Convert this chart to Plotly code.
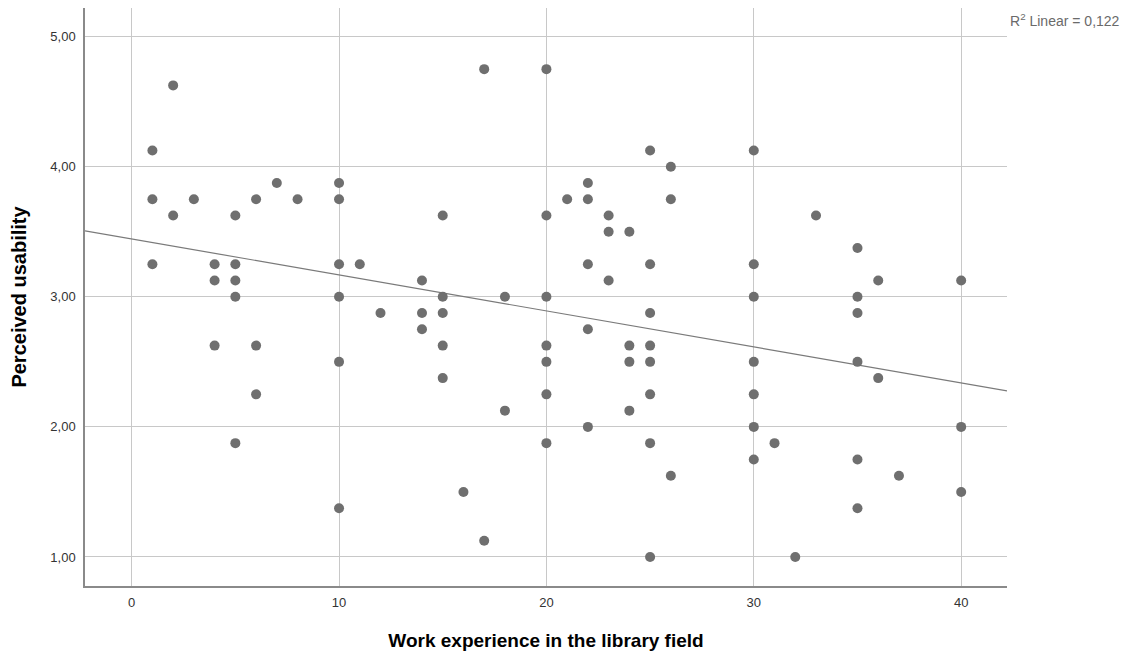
import plotly.graph_objects as go

# Work experience (years) and perceived usability
experience = (
    [1, 1, 1] + [2, 2] + [3] + [4, 4, 4] + [5, 5, 5, 5, 5] + [6, 6, 6] + [7] + [8]
    + [10, 10, 10, 10, 10, 10] + [11] + [12] + [14, 14, 14] + [15, 15, 15, 15, 15]
    + [16] + [17, 17] + [18, 18] + [20, 20, 20, 20, 20, 20, 20] + [21]
    + [22, 22, 22, 22, 22] + [23, 23, 23] + [24, 24, 24, 24]
    + [25, 25, 25, 25, 25, 25, 25, 25] + [26, 26, 26]
    + [30, 30, 30, 30, 30, 30, 30] + [31] + [32] + [33]
    + [35, 35, 35, 35, 35, 35] + [36, 36] + [37] + [40, 40, 40]
)
usability = (
    [4.125, 3.75, 3.25] + [4.625, 3.625] + [3.75] + [3.25, 3.125, 2.625]
    + [3.625, 3.25, 3.125, 3.0, 1.875] + [3.75, 2.625, 2.25] + [3.875] + [3.75]
    + [3.875, 3.75, 3.25, 3.0, 2.5, 1.375] + [3.25] + [2.875] + [3.125, 2.875, 2.75]
    + [3.625, 3.0, 2.875, 2.625, 2.375] + [1.5] + [4.75, 1.125] + [3.0, 2.125]
    + [4.75, 3.625, 3.0, 2.625, 2.5, 2.25, 1.875] + [3.75]
    + [3.875, 3.75, 3.25, 2.75, 2.0] + [3.625, 3.5, 3.125] + [3.5, 2.625, 2.5, 2.125]
    + [4.125, 3.25, 2.875, 2.625, 2.5, 2.25, 1.875, 1.0] + [4.0, 3.75, 1.625]
    + [4.125, 3.25, 3.0, 2.5, 2.25, 2.0, 1.75] + [1.875] + [1.0] + [3.625]
    + [3.375, 3.0, 2.875, 2.5, 1.75, 1.375] + [3.125, 2.375] + [1.625]
    + [3.125, 2.0, 1.5]
)

# Linear fit line as drawn
fit_intercept = 3.445
fit_slope = -0.02768
r2_text = "R<sup>2</sup> Linear = 0,122"

x_ticks = [0, 10, 20, 30, 40]
y_ticks = [1, 2, 3, 4, 5]
y_tick_text = ["1,00", "2,00", "3,00", "4,00", "5,00"]

x_range = [-2.25, 42.21]
y_range = [0.777, 5.22]

fit_x = x_range
fit_y = [fit_intercept + fit_slope * v for v in fit_x]

fig = go.Figure()
fig.add_trace(go.Scatter(
    x=fit_x, y=fit_y, mode="lines",
    line=dict(color="#7a7a7a", width=1.2),
    hoverinfo="skip", showlegend=False,
))
fig.add_trace(go.Scatter(
    x=experience, y=usability, mode="markers",
    marker=dict(color="#6f6f6f", size=10, line=dict(width=0)),
    showlegend=False,
))

FAM = "Liberation Sans, Arial, sans-serif"
axis_font = dict(family=FAM, size=13, color="#333333")

fig.update_layout(
    width=1127, height=647,
    margin=dict(l=77, r=128, t=0, b=69),
    paper_bgcolor="white", plot_bgcolor="white",
    font=axis_font,
    showlegend=False,
    annotations=[dict(
        text=r2_text, xref="paper", yref="paper", x=1.0, y=1.0,
        xanchor="left", yanchor="middle", xshift=1, yshift=-12,
        showarrow=False,
        font=dict(family=FAM, size=14, color="#6a6a6a"),
    )],
)
fig.update_xaxes(
    range=x_range, tickvals=x_ticks, ticktext=[str(v) for v in x_ticks],
    showgrid=True, gridcolor="#c8c8c8", gridwidth=1,
    zeroline=False, showline=True, linecolor="#8a8a8a", linewidth=1.5,
    ticks="", tickfont=axis_font, ticklabelstandoff=4,
    title=dict(text="<b>Work experience in the library field</b>",
               font=dict(family=FAM, size=19, color="#000000"), standoff=24),
)
fig.update_yaxes(
    range=y_range, tickvals=y_ticks, ticktext=y_tick_text,
    showgrid=True, gridcolor="#c8c8c8", gridwidth=1,
    zeroline=False, showline=True, linecolor="#8a8a8a", linewidth=1.5,
    ticks="", tickfont=axis_font, ticklabelstandoff=5,
    title=dict(text="<b>Perceived usability</b>",
               font=dict(family=FAM, size=20, color="#000000"), standoff=18),
)

fig.write_html("out.html")
